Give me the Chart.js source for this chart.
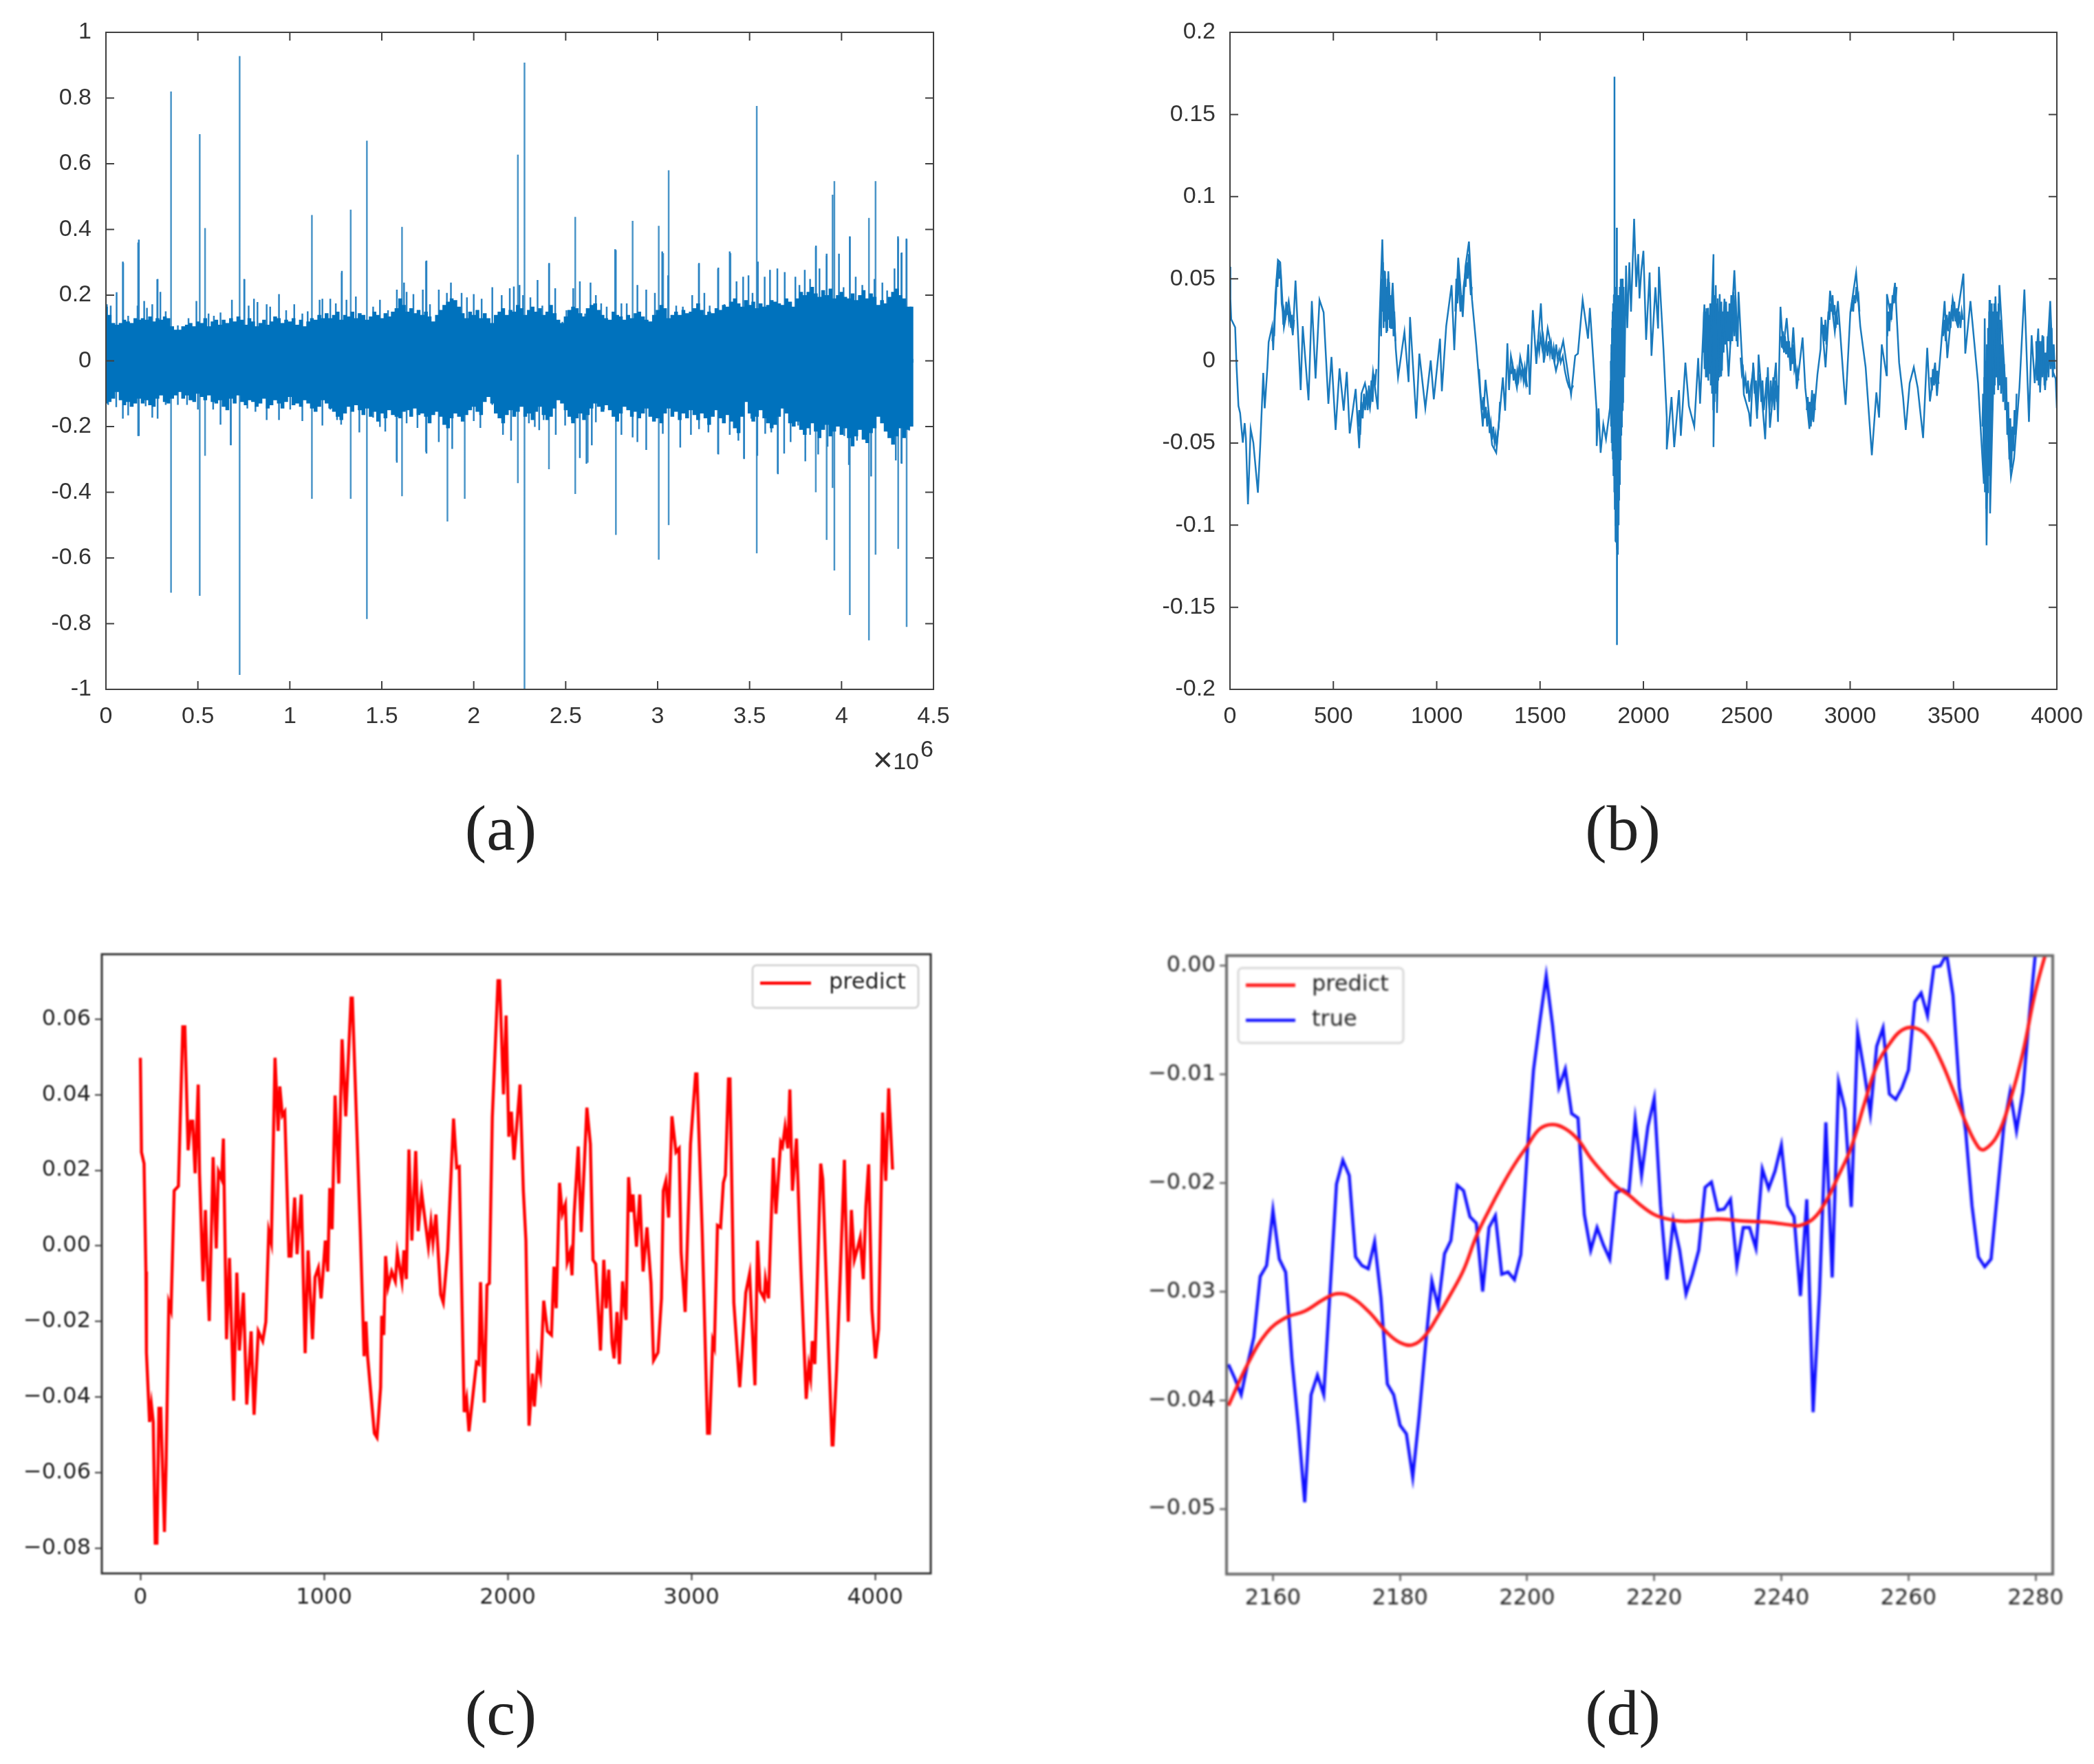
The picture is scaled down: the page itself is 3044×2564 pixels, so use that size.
<!DOCTYPE html>
<html>
<head>
<meta charset="utf-8">
<script src="https://cdn.jsdelivr.net/npm/chart.js@4/dist/chart.umd.js"></script>
<style>
    body { margin: 0; background: #fff; width: 3044px; height: 2564px; position: relative; overflow: hidden; }
    canvas { position: absolute; }
    .caption { position: absolute; width: 200px; text-align: center; font-family: "Liberation Serif", serif; font-size: 94px; line-height: 100px; color: #222; }
</style>
</head>
<body>
<canvas id="chartA" width="1450" height="1150" style="left:0;top:0;filter:blur(.7px)"></canvas>
<canvas id="chartB" width="1404" height="1150" style="left:1640px;top:0;filter:blur(.7px)"></canvas>
<canvas id="chartC" width="1450" height="1060" style="left:0;top:1340px;filter:blur(.9px)"></canvas>
<canvas id="chartD" width="1404" height="1060" style="left:1640px;top:1340px;filter:blur(1.4px)"></canvas>
<div class="caption" style="left:628px;top:1153px">(a)</div>
<div class="caption" style="left:2259px;top:1153px">(b)</div>
<div class="caption" style="left:628px;top:2439px">(c)</div>
<div class="caption" style="left:2259px;top:2439px">(d)</div>
<script>
// panel (a), x values in units of 10^6
const aXTicks = [0, 0.5, 1, 1.5, 2, 2.5, 3, 3.5, 4, 4.5]
const aYTicks = [-1, -0.8, -0.6, -0.4, -0.2, 0, 0.2, 0.4, 0.6, 0.8, 1]

const spikeX = [0.094, 0.175, 0.279, 0.354, 0.51, 0.539, 0.679, 0.727, 0.753, 1.12, 1.282, 1.331, 1.419, 1.581, 1.61, 1.74, 1.857, 1.951, 2.24, 2.276, 2.409, 2.552, 2.62, 2.773, 2.864, 3.006, 3.03, 3.06, 3.224, 3.328, 3.396, 3.47, 3.539, 3.653, 3.86, 3.919, 3.951, 3.961, 4.045, 4.149, 4.185, 4.308, 4.325, 4.354]
const spikeTop = [0.298, 0.36, 0.248, 0.82, 0.69, 0.404, 0.1, 0.928, 0.248, 0.444, 0.268, 0.46, 0.67, 0.1, 0.408, 0.303, 0.1, 0.1, 0.628, 0.908, 0.295, 0.438, 0.1, 0.337, 0.426, 0.411, 0.328, 0.58, 0.295, 0.28, 0.328, 0.1, 0.776, 0.1, 0.346, 0.32, 0.506, 0.547, 0.378, 0.435, 0.547, 0.373, 0.328, 0.369]
const spikeBottom = [-0.1, -0.229, -0.1, -0.706, -0.715, -0.289, -0.256, -0.956, -0.1, -0.42, -0.1, -0.42, -0.786, -0.304, -0.412, -0.277, -0.489, -0.42, -0.372, -1, -0.33, -0.405, -0.31, -0.53, -0.1, -0.605, -0.1, -0.5, -0.1, -0.283, -0.1, -0.297, -0.586, -0.342, -0.4, -0.545, -0.387, -0.638, -0.774, -0.851, -0.59, -0.572, -0.312, -0.81]

const upperX = [0.005, 0.026, 0.058, 0.092, 0.121, 0.172, 0.179, 0.208, 0.223, 0.252, 0.281, 0.296, 0.325, 0.391, 0.449, 0.492, 0.558, 0.587, 0.623, 0.685, 0.752, 0.776, 0.805, 0.824, 0.874, 0.893, 0.941, 0.98, 1.024, 1.068, 1.097, 1.162, 1.177, 1.22, 1.25, 1.283, 1.308, 1.359, 1.453, 1.49, 1.534, 1.582, 1.621, 1.635, 1.672, 1.723, 1.743, 1.762, 1.81, 1.854, 1.876, 1.934, 1.963, 2, 2.043, 2.101, 2.152, 2.196, 2.218, 2.249, 2.268, 2.308, 2.347, 2.373, 2.41, 2.443, 2.482, 2.504, 2.541, 2.577, 2.606, 2.635, 2.664, 2.693, 2.723, 2.769, 2.803, 2.832, 2.89, 2.938, 2.985, 3.025, 3.057, 3.101, 3.137, 3.188, 3.225, 3.254, 3.283, 3.33, 3.363, 3.392, 3.429, 3.465, 3.494, 3.516, 3.545, 3.582, 3.611, 3.651, 3.691, 3.749, 3.771, 3.8, 3.829, 3.861, 3.88, 3.919, 3.986, 4.011, 4.045, 4.077, 4.113, 4.179, 4.222, 4.248, 4.288, 4.307, 4.327, 4.353, 4.375]
const upperY = [0.172, 0.168, 0.209, 0.302, 0.137, 0.168, 0.369, 0.182, 0.161, 0.172, 0.249, 0.21, 0.151, 0.108, 0.13, 0.182, 0.144, 0.137, 0.147, 0.186, 0.249, 0.168, 0.189, 0.179, 0.172, 0.165, 0.203, 0.154, 0.172, 0.144, 0.151, 0.186, 0.189, 0.189, 0.175, 0.274, 0.186, 0.196, 0.165, 0.186, 0.154, 0.217, 0.238, 0.21, 0.203, 0.217, 0.305, 0.172, 0.217, 0.207, 0.238, 0.207, 0.193, 0.203, 0.189, 0.224, 0.2, 0.221, 0.226, 0.231, 0.2, 0.193, 0.246, 0.168, 0.298, 0.221, 0.119, 0.154, 0.221, 0.242, 0.144, 0.238, 0.2, 0.175, 0.165, 0.34, 0.175, 0.175, 0.231, 0.217, 0.207, 0.333, 0.26, 0.168, 0.165, 0.2, 0.298, 0.207, 0.168, 0.284, 0.172, 0.333, 0.242, 0.256, 0.26, 0.207, 0.302, 0.256, 0.277, 0.281, 0.27, 0.256, 0.231, 0.277, 0.249, 0.351, 0.281, 0.326, 0.326, 0.224, 0.379, 0.256, 0.231, 0.249, 0.238, 0.214, 0.281, 0.379, 0.33, 0.372, 0.165]
const lowerX = [0.012, 0.056, 0.092, 0.121, 0.179, 0.216, 0.252, 0.281, 0.325, 0.391, 0.441, 0.5, 0.583, 0.623, 0.679, 0.769, 0.813, 0.874, 0.941, 1.002, 1.068, 1.177, 1.22, 1.257, 1.279, 1.378, 1.453, 1.49, 1.519, 1.582, 1.635, 1.694, 1.743, 1.81, 1.883, 2, 2.036, 2.101, 2.159, 2.203, 2.3, 2.332, 2.356, 2.38, 2.446, 2.497, 2.533, 2.577, 2.613, 2.642, 2.664, 2.708, 2.803, 2.864, 2.89, 2.938, 3.028, 3.123, 3.181, 3.225, 3.276, 3.33, 3.392, 3.439, 3.47, 3.509, 3.542, 3.585, 3.618, 3.654, 3.688, 3.723, 3.764, 3.803, 3.829, 3.873, 3.924, 4.015, 4.04, 4.084, 4.12, 4.161, 4.251, 4.295, 4.327, 4.368]
const lowerY = [-0.134, -0.141, -0.176, -0.166, -0.229, -0.138, -0.173, -0.176, -0.134, -0.134, -0.134, -0.148, -0.148, -0.194, -0.257, -0.145, -0.155, -0.18, -0.18, -0.148, -0.183, -0.197, -0.148, -0.18, -0.194, -0.218, -0.173, -0.201, -0.215, -0.31, -0.19, -0.204, -0.282, -0.247, -0.268, -0.183, -0.204, -0.134, -0.225, -0.243, -0.19, -0.201, -0.211, -0.18, -0.225, -0.197, -0.18, -0.296, -0.313, -0.257, -0.187, -0.148, -0.225, -0.233, -0.247, -0.271, -0.222, -0.264, -0.225, -0.208, -0.218, -0.285, -0.225, -0.243, -0.299, -0.176, -0.289, -0.222, -0.218, -0.345, -0.282, -0.247, -0.197, -0.306, -0.225, -0.285, -0.261, -0.229, -0.317, -0.243, -0.215, -0.352, -0.215, -0.303, -0.313, -0.212]

// solid band, one reading of its edge every 0.02 x 10^6
const bandX = []
for (let i = 0; i < 220; i++) bandX.push(i * 0.02)
const bandTop = [
    0.165, 0.14, 0.115, 0.11, 0.115, 0.125, 0.12, 0.115, 0.13, 0.125,
    0.13, 0.125, 0.135, 0.12, 0.13, 0.125, 0.135, 0.13, 0.105, 0.095,
    0.095, 0.105, 0.11, 0.115, 0.105, 0.12, 0.115, 0.13, 0.105, 0.12,
    0.125, 0.11, 0.125, 0.115, 0.13, 0.12, 0.135, 0.125, 0.11, 0.13,
    0.12, 0.105, 0.115, 0.125, 0.11, 0.12, 0.135, 0.13, 0.115, 0.125,
    0.12, 0.13, 0.11, 0.125, 0.105, 0.12, 0.13, 0.125, 0.14, 0.13,
    0.145, 0.13, 0.14, 0.15, 0.125, 0.14, 0.135, 0.15, 0.13, 0.145,
    0.14, 0.125, 0.135, 0.15, 0.14, 0.13, 0.145, 0.135, 0.15, 0.16,
    0.19, 0.17, 0.15, 0.16, 0.145, 0.155, 0.14, 0.15, 0.135, 0.12,
    0.14, 0.155, 0.17, 0.18, 0.19, 0.185, 0.165, 0.145, 0.13, 0.15,
    0.14, 0.155, 0.13, 0.145, 0.13, 0.115, 0.14, 0.15, 0.16, 0.14,
    0.155, 0.15, 0.17, 0.16, 0.14, 0.155, 0.165, 0.15, 0.16, 0.14,
    0.15, 0.17, 0.145, 0.125, 0.115, 0.135, 0.155, 0.165, 0.16, 0.145,
    0.135, 0.16, 0.17, 0.175, 0.155, 0.14, 0.13, 0.125, 0.15, 0.14,
    0.135, 0.125, 0.14, 0.13, 0.145, 0.15, 0.135, 0.125, 0.12, 0.14,
    0.155, 0.17, 0.16, 0.13, 0.14, 0.15, 0.14, 0.155, 0.145, 0.15,
    0.16, 0.175, 0.155, 0.14, 0.15, 0.145, 0.16, 0.155, 0.17, 0.165,
    0.18, 0.19, 0.175, 0.165, 0.185, 0.17, 0.18, 0.16, 0.175, 0.165,
    0.17, 0.185, 0.18, 0.175, 0.17, 0.19, 0.18, 0.165, 0.19, 0.21,
    0.2, 0.21, 0.225, 0.205, 0.195, 0.215, 0.2, 0.22, 0.19, 0.2,
    0.21, 0.195, 0.19, 0.205, 0.185, 0.2, 0.215, 0.19, 0.205, 0.195,
    0.17, 0.185, 0.175, 0.195, 0.21, 0.22, 0.2, 0.19, 0.165, 0.165
]
const bandLow = [
    -0.13, -0.125, -0.115, -0.095, -0.12, -0.135, -0.125, -0.14, -0.13, -0.115,
    -0.13, -0.12, -0.135, -0.14, -0.115, -0.105, -0.125, -0.13, -0.115, -0.105,
    -0.095, -0.115, -0.105, -0.12, -0.125, -0.1, -0.11, -0.12, -0.105, -0.125,
    -0.13, -0.12, -0.14, -0.15, -0.115, -0.13, -0.105, -0.125, -0.135, -0.12,
    -0.125, -0.14, -0.13, -0.115, -0.145, -0.135, -0.12, -0.13, -0.145, -0.125,
    -0.11, -0.135, -0.13, -0.14, -0.12, -0.13, -0.145, -0.155, -0.14, -0.12,
    -0.13, -0.145, -0.155, -0.17, -0.18, -0.16, -0.14, -0.155, -0.135, -0.15,
    -0.165, -0.145, -0.17, -0.155, -0.185, -0.16, -0.175, -0.15, -0.165, -0.17,
    -0.175, -0.155, -0.15, -0.17, -0.145, -0.165, -0.16, -0.17, -0.19, -0.165,
    -0.155, -0.17, -0.195, -0.205, -0.175, -0.16, -0.17, -0.185, -0.165, -0.15,
    -0.14, -0.155, -0.165, -0.125, -0.11, -0.13, -0.16, -0.175, -0.19, -0.165,
    -0.15, -0.17, -0.155, -0.14, -0.17, -0.16, -0.18, -0.155, -0.14, -0.165,
    -0.18, -0.17, -0.145, -0.12, -0.13, -0.15, -0.17, -0.19, -0.175, -0.16,
    -0.18, -0.165, -0.145, -0.13, -0.14, -0.155, -0.135, -0.15, -0.17, -0.185,
    -0.16, -0.14, -0.15, -0.17, -0.155, -0.175, -0.16, -0.145, -0.17, -0.185,
    -0.175, -0.19, -0.16, -0.145, -0.17, -0.155, -0.18, -0.16, -0.175, -0.15,
    -0.165, -0.18, -0.16, -0.175, -0.195, -0.17, -0.15, -0.175, -0.19, -0.165,
    -0.185, -0.205, -0.22, -0.17, -0.125, -0.16, -0.185, -0.17, -0.15, -0.175,
    -0.19, -0.205, -0.195, -0.17, -0.145, -0.16, -0.19, -0.2, -0.185, -0.21,
    -0.225, -0.205, -0.19, -0.215, -0.235, -0.21, -0.195, -0.23, -0.215, -0.2,
    -0.225, -0.205, -0.235, -0.26, -0.23, -0.21, -0.24, -0.25, -0.22, -0.205,
    -0.17, -0.19, -0.215, -0.235, -0.255, -0.23, -0.205, -0.235, -0.21, -0.2
]

// panel (b)
const bXTicks = [0, 500, 1000, 1500, 2000, 2500, 3000, 3500, 4000]
const bYTicks = [-0.2, -0.15, -0.1, -0.05, 0, 0.05, 0.1, 0.15, 0.2]
const signalX = [0, 2, 6, 25, 32, 41, 49, 62, 71, 77, 87, 100, 113, 135, 146, 161, 168, 181, 187, 204, 209, 220, 232, 243, 261, 284, 304, 317, 342, 352, 380, 396, 414, 433, 453, 476, 491, 511, 530, 550, 565, 579, 608, 625, 636, 653, 677, 692, 715, 722, 737, 747, 750, 757, 766, 776, 787, 802, 813, 844, 864, 871, 901, 916, 945, 971, 986, 1016, 1025, 1046, 1072, 1085, 1104, 1126, 1139, 1156, 1171, 1191, 1223, 1236, 1268, 1288, 1320, 1331, 1342, 1350, 1359, 1388, 1404, 1430, 1443, 1450, 1465, 1482, 1504, 1518, 1537, 1577, 1612, 1650, 1670, 1683, 1706, 1732, 1741, 1773, 1774, 1783, 1793, 1806, 1819, 1838, 1842, 1844, 1846, 1848, 1850, 1852, 1854, 1856, 1858, 1860, 1861, 1863, 1865, 1867, 1869, 1871, 1872, 1874, 1876, 1878, 1880, 1882, 1884, 1886, 1888, 1890, 1892, 1894, 1896, 1898, 1900, 1904, 1908, 1916, 1922, 1932, 1940, 1955, 1965, 1975, 1981, 1990, 2000, 2013, 2030, 2039, 2058, 2071, 2075, 2097, 2113, 2113, 2136, 2149, 2172, 2181, 2203, 2220, 2246, 2265, 2274, 2295, 2304, 2313, 2321, 2339, 2339, 2350, 2356, 2369, 2376, 2392, 2412, 2440, 2456, 2460, 2486, 2511, 2518, 2531, 2550, 2557, 2589, 2602, 2612, 2641, 2651, 2663, 2676, 2693, 2712, 2725, 2742, 2770, 2783, 2803, 2816, 2822, 2842, 2857, 2861, 2881, 2903, 2926, 2941, 2971, 2978, 3001, 3029, 3049, 3075, 3105, 3127, 3140, 3153, 3176, 3178, 3198, 3217, 3237, 3256, 3269, 3288, 3308, 3327, 3353, 3373, 3386, 3411, 3420, 3437, 3457, 3470, 3496, 3515, 3548, 3557, 3582, 3619, 3647, 3651, 3660, 3674, 3677, 3703, 3716, 3722, 3748, 3778, 3793, 3819, 3843, 3865, 3878, 3893, 3910, 3919, 3930, 3943, 3968, 3981, 3994, 4000]
const signalY = [0.0573, 0.0378, 0.0253, 0.0204, -0.0039, -0.0275, -0.0317, -0.0498, -0.0379, -0.047, -0.0873, -0.0414, -0.0498, -0.0803, -0.0525, -0.0074, -0.0289, -0.0039, 0.0114, 0.0211, 0.0065, 0.0406, 0.0614, 0.06, 0.0204, 0.0364, 0.0156, 0.0489, -0.0178, 0.0211, -0.024, 0.0364, -0.0108, 0.0371, 0.0295, -0.0261, 0.0024, -0.0421, -0.0046, -0.0303, -0.0067, -0.0442, -0.0171, -0.0532, -0.0199, -0.0136, -0.0289, -0.0067, -0.0296, 0.0197, 0.0739, 0.0239, 0.0545, 0.017, 0.0545, 0.0239, 0.0475, 0.0072, -0.0101, 0.0177, -0.0129, 0.0267, -0.0352, 0.0044, -0.0289, 0.0003, -0.0234, 0.0135, -0.0185, 0.0211, 0.0461, 0.0065, 0.0628, 0.0267, 0.0573, 0.0726, 0.0371, 0.01, -0.04, -0.0115, -0.0512, -0.056, -0.0101, -0.0303, 0.0107, -0.0178, 0.0031, -0.0164, 0.0024, -0.0136, 0.01, -0.0206, 0.0309, -0.0018, 0.035, -0.0011, 0.0197, -0.006, 0.0121, -0.0206, 0.0031, 0.0044, 0.0371, 0.0135, 0.0322, -0.0289, -0.0518, -0.0289, -0.056, -0.0386, -0.0477, -0.0289, -0.012, -0.035, 0.005, -0.045, 0.025, -0.055, 0.035, -0.07, 0.04, 0.173, -0.08, 0.03, -0.11, 0.045, -0.1, 0.081, -0.173, 0.04, -0.118, 0.04, -0.1, 0.035, -0.075, 0.045, -0.06, 0.05, -0.045, 0.04, -0.04, 0.05, -0.03, 0.045, -0.01, 0.058, 0.02, 0.06, 0.03, 0.0865, 0.045, 0.065, 0.038, 0.055, 0.067, 0.0128, 0.0538, 0.0031, 0.0448, 0.0197, 0.0573, 0.0072, -0.0345, -0.0539, -0.022, -0.0525, -0.0178, -0.0456, -0.0011, -0.0275, -0.04, 0.0017, -0.0261, 0.0343, -0.0095, 0.0322, -0.0067, 0.0649, -0.0525, 0.0461, -0.0317, 0.0406, -0.0095, 0.0378, -0.0095, 0.0552, 0.0086, 0.042, -0.0206, -0.0317, -0.04, -0.0011, -0.0352, 0.0038, -0.0477, -0.0039, -0.0407, -0.0011, -0.0372, 0.0329, 0.0072, 0.026, -0.006, 0.0204, -0.0171, 0.0142, -0.0164, -0.0414, -0.0178, -0.0372, -0.0081, 0.0072, 0.0267, -0.0039, 0.0427, 0.0177, 0.0364, -0.0164, -0.0268, 0.0295, 0.0538, 0.0211, -0.0039, -0.0574, -0.0192, -0.0345, 0.01, -0.0088, 0.0406, 0.0267, 0.0475, -0.0011, -0.022, -0.0421, -0.0136, -0.0039, -0.0164, -0.047, 0.0079, -0.0247, -0.0011, -0.0213, 0.0044, 0.0364, 0.0017, 0.0378, 0.0239, 0.0531, 0.0044, 0.0364, -0.0136, -0.0748, 0.0259, -0.1123, 0.0371, -0.0929, 0.0392, -0.0178, 0.0461, -0.0095, -0.0706, -0.0595, -0.0164, 0.0434, -0.0372, 0.0156, -0.0136, 0.0197, -0.0192, 0.0156, -0.0178, 0.0364, -0.0067, -0.0108, -0.0289]

// short stretches of the trace where it is dense, a null breaks the line between them
const detailX = [
    205, 210, 214, 218, 222, 226, 230, 235, 240, 245, 250, 255, 258, 262, 268, 272, 276, 280, 285, 290, 295, 300, 305, 310, 311,
    620, 625, 630, 636, 642, 648, 654, 660, 666, 672, 678, 684, 690, 696, 702, 708, 709,
    725, 728, 731, 734, 737, 740, 743, 746, 749, 752, 755, 758, 761, 764, 767, 770, 773, 776, 779, 782, 785, 788, 791, 795, 800, 801,
    1090, 1095, 1100, 1105, 1110, 1115, 1120, 1125, 1130, 1135, 1140, 1145, 1150, 1155, 1160, 1165, 1170, 1171,
    1205, 1212, 1220, 1226, 1232, 1238, 1244, 1250, 1256, 1262, 1268, 1274, 1280, 1285, 1290, 1295, 1300, 1306, 1307,
    1360, 1366, 1372, 1378, 1384, 1390, 1396, 1402, 1408, 1414, 1420, 1426, 1432, 1438, 1439,
    1480, 1490, 1496, 1502, 1510, 1516, 1524, 1530, 1536, 1542, 1548, 1554, 1560, 1566, 1572, 1578, 1584, 1592, 1600, 1610, 1620, 1630, 1640, 1650, 1660, 1661,
    1842, 1843.5, 1845, 1846.5, 1848, 1849.5, 1851, 1852.5, 1854, 1855.5, 1857, 1858.5, 1860, 1861.5, 1863, 1864.5, 1866, 1867.5, 1869, 1870.5, 1872, 1873.5, 1875, 1876.5, 1878, 1879.5, 1881, 1882.5, 1884, 1885.5, 1887, 1888.5, 1890, 1891.5, 1893, 1894.5, 1896, 1897.5, 1899, 1900.5, 1902, 1903,
    2290, 2293, 2296, 2299, 2302, 2305, 2308, 2311, 2314, 2317, 2320, 2323, 2326, 2329, 2332, 2335, 2338, 2341, 2344, 2347, 2350, 2353, 2356, 2359, 2362, 2365, 2368, 2371, 2374, 2377, 2380, 2384, 2388, 2392, 2396, 2400, 2404, 2408, 2412, 2416, 2420, 2425, 2430, 2435, 2440, 2445, 2450, 2451,
    2470, 2476, 2482, 2488, 2494, 2500, 2506, 2512, 2520, 2526, 2532, 2538, 2544, 2552, 2558, 2564, 2570, 2576, 2582, 2590, 2596, 2604, 2610, 2616, 2622, 2628, 2634, 2640, 2646, 2652, 2653,
    2665, 2670, 2675, 2680, 2685, 2690, 2695, 2700, 2705, 2710, 2715, 2720, 2725, 2730, 2735, 2740, 2745, 2750, 2751,
    2790, 2795, 2800, 2805, 2810, 2815, 2820, 2825, 2830, 2831,
    2870, 2875, 2880, 2885, 2890, 2895, 2900, 2905, 2910, 2915, 2920, 2925, 2930, 2935, 2940, 2941,
    3005, 3010, 3015, 3020, 3025, 3030, 3035, 3040, 3045, 3046,
    3180, 3185, 3190, 3195, 3200, 3205, 3210, 3215, 3220, 3225, 3226,
    3390, 3396, 3400, 3406, 3410, 3416, 3422, 3428, 3429,
    3450, 3456, 3462, 3468, 3474, 3480, 3486, 3492, 3498, 3504, 3510, 3516, 3522, 3528, 3534, 3540, 3546, 3547,
    3640, 3643, 3646, 3649, 3652, 3655, 3658, 3661, 3664, 3667, 3670, 3673, 3676, 3679, 3682, 3685, 3688, 3691, 3694, 3697, 3700, 3703, 3706, 3710, 3714, 3718, 3722, 3726, 3730, 3735, 3740, 3745, 3750, 3755, 3760, 3765, 3770, 3775, 3780, 3785, 3790, 3795, 3800, 3805, 3806,
    3900, 3904, 3908, 3912, 3916, 3920, 3925, 3930, 3935, 3940, 3945, 3950, 3955, 3960, 3965, 3970, 3975, 3980, 3985, 3990
]
const detailY = [
    0.012, 0.02, 0.015, 0.03, 0.035, 0.05, 0.045, 0.06, 0.05, 0.055, 0.035, 0.03, 0.022, 0.03, 0.025, 0.036, 0.028, 0.033, 0.025, 0.03, 0.02, 0.028, 0.018, 0.025, null,
    -0.04, -0.03, -0.045, -0.025, -0.035, -0.02, -0.03, -0.018, -0.03, -0.015, -0.028, -0.012, -0.025, -0.008, -0.015, -0.005, null,
    0.02, 0.035, 0.015, 0.05, 0.03, 0.06, 0.02, 0.055, 0.025, 0.05, 0.02, 0.045, 0.018, 0.05, 0.025, 0.048, 0.02, 0.04, 0.02, 0.04, 0.022, 0.038, 0.015, 0.03, 0.012, null,
    0.03, 0.05, 0.035, 0.055, 0.04, 0.03, 0.04, 0.03, 0.045, 0.05, 0.045, 0.06, 0.05, 0.065, 0.05, 0.04, 0.045, null,
    -0.005, -0.02, -0.03, -0.022, -0.035, -0.028, -0.04, -0.03, -0.044, -0.038, -0.048, -0.04, -0.05, -0.045, -0.052, -0.045, -0.04, -0.025, null,
    -0.008, -0.003, -0.012, -0.005, -0.014, -0.006, -0.011, -0.003, -0.01, -0.005, -0.012, -0.004, -0.01, -0.016, null,
    0.003, 0.012, 0.006, 0.015, 0.008, 0.014, 0.005, 0.012, 0.003, 0.012, 0.004, 0.01, 0.001, 0.008, 0.002, 0.01, 0.002, 0.006, -0.001, 0.003, -0.006, -0.012, -0.016, -0.018, -0.015, null,
    0, -0.04, 0.01, -0.05, 0.02, -0.055, 0.03, -0.06, 0.035, -0.07, 0.04, -0.08, 0.04, -0.09, 0.04, -0.1, 0.04, -0.11, 0.04, -0.11, 0.04, -0.115, 0.04, -0.115, 0.04, -0.1, 0.04, -0.085, 0.035, -0.075, 0.04, -0.055, 0.04, -0.045, 0.035, -0.04, 0.03, -0.03, 0.03, -0.025, 0.035, null,
    0.005, 0.03, -0.005, 0.03, -0.01, 0.032, -0.01, 0.03, -0.012, 0.028, -0.008, 0.035, -0.015, 0.03, -0.02, 0.04, -0.03, 0.04, -0.025, 0.04, -0.02, 0.035, -0.018, 0.038, -0.012, 0.03, -0.01, 0.028, -0.008, 0.036, -0.006, 0.03, 0.005, 0.03, 0.01, 0.036, 0.012, 0.03, 0.012, 0.035, 0.01, 0.04, 0.012, 0.042, 0.015, 0.04, 0.012, null,
    0.002, -0.008, -0.005, -0.015, -0.01, -0.02, -0.012, -0.025, -0.015, -0.01, -0.004, -0.02, -0.012, -0.03, -0.015, -0.008, -0.025, -0.012, -0.03, -0.02, -0.01, -0.02, -0.03, -0.012, -0.028, -0.01, -0.03, -0.012, -0.025, -0.015, null,
    0.015, 0.008, 0.018, 0.005, 0.015, 0.004, 0.012, 0.002, 0.012, 0, 0.008, -0.002, 0.01, -0.005, -0.002, -0.01, -0.006, -0.012, null,
    -0.03, -0.022, -0.035, -0.025, -0.04, -0.028, -0.036, -0.02, -0.03, null,
    0.022, 0.012, 0.025, 0.01, 0.02, 0.03, 0.025, 0.035, 0.03, 0.04, 0.028, 0.034, 0.02, 0.03, 0.022, null,
    0.03, 0.037, 0.03, 0.04, 0.035, 0.045, 0.038, 0.04, 0.03, null,
    0.015, 0.03, 0.018, 0.035, 0.025, 0.04, 0.035, 0.045, 0.035, 0.045, null,
    -0.01, -0.018, -0.005, -0.015, -0.004, -0.014, -0.006, -0.014, null,
    0.015, 0.025, 0.012, 0.028, 0.018, 0.03, 0.02, 0.034, 0.024, 0.036, 0.024, 0.032, 0.02, 0.03, 0.02, 0.03, 0.025, null,
    -0.04, -0.02, -0.065, -0.01, -0.08, 0, -0.09, 0.01, -0.08, 0.02, -0.07, 0.03, -0.06, 0.03, -0.05, 0.035, -0.03, 0.03, -0.02, 0.035, -0.015, 0.03, -0.01, 0.03, -0.01, 0.035, -0.015, 0.025, -0.02, 0.01, -0.025, -0.002, -0.03, -0.01, -0.045, -0.025, -0.06, -0.035, -0.065, -0.04, -0.055, -0.03, -0.045, -0.02, null,
    0.012, -0.012, 0.015, -0.015, 0.012, -0.012, 0.012, -0.01, 0.015, -0.015, 0.005, -0.012, 0.015, -0.01, 0.025, -0.005, 0.02, -0.01, 0.01, -0.005
]

// panel (c)
const cXTicks = [0, 1000, 2000, 3000, 4000]
const cYTicks = [-0.08, -0.06, -0.04, -0.02, 0, 0.02, 0.04, 0.06]
const predictX = [0, 6, 20, 30, 33, 50, 60, 70, 81, 90, 101, 111, 131, 140, 155, 167, 184, 207, 231, 242, 260, 274, 285, 298, 315, 322, 341, 354, 365, 375, 396, 413, 425, 442, 452, 469, 485, 508, 525, 539, 561, 579, 603, 619, 642, 666, 683, 699, 713, 733, 750, 759, 773, 786, 809, 820, 840, 853, 876, 897, 913, 937, 951, 969, 984, 1007, 1020, 1031, 1044, 1060, 1080, 1098, 1118, 1147, 1154, 1197, 1218, 1228, 1237, 1274, 1288, 1308, 1314, 1325, 1335, 1348, 1368, 1388, 1399, 1424, 1435, 1448, 1462, 1478, 1499, 1512, 1531, 1568, 1582, 1593, 1609, 1635, 1649, 1673, 1705, 1722, 1736, 1763, 1776, 1789, 1830, 1843, 1852, 1872, 1887, 1900, 1916, 1947, 1956, 1977, 1991, 2006, 2020, 2034, 2045, 2067, 2085, 2099, 2116, 2135, 2145, 2163, 2178, 2196, 2216, 2238, 2252, 2264, 2282, 2297, 2314, 2324, 2340, 2350, 2361, 2384, 2400, 2431, 2450, 2464, 2479, 2505, 2523, 2536, 2550, 2568, 2579, 2595, 2608, 2625, 2644, 2658, 2672, 2682, 2701, 2719, 2737, 2758, 2780, 2794, 2818, 2837, 2847, 2861, 2876, 2894, 2916, 2933, 2944, 2966, 2995, 3023, 3030, 3059, 3088, 3098, 3116, 3125, 3142, 3159, 3174, 3185, 3202, 3210, 3231, 3263, 3281, 3296, 3317, 3346, 3360, 3374, 3396, 3403, 3420, 3446, 3460, 3486, 3496, 3510, 3525, 3536, 3550, 3572, 3596, 3625, 3639, 3649, 3658, 3672, 3704, 3715, 3747, 3766, 3771, 3790, 3811, 3833, 3854, 3871, 3887, 3904, 3919, 3936, 3950, 3965, 3983, 4002, 4019, 4041, 4058, 4074, 4095]
const predictY = [0.0498, 0.0248, 0.0218, -0.0068, -0.0282, -0.0466, -0.042, -0.0466, -0.0787, -0.0787, -0.043, -0.043, -0.0757, -0.0578, -0.015, -0.017, 0.0146, 0.0158, 0.058, 0.058, 0.0253, 0.033, 0.033, 0.0192, 0.0427, 0.0192, -0.0094, 0.0095, -0.0068, -0.0199, 0.0235, -0.0007, 0.0197, 0.0177, 0.0284, -0.0247, -0.0032, -0.041, -0.0071, -0.0277, -0.0124, -0.042, -0.0226, -0.0447, -0.0226, -0.0252, -0.0201, 0.0039, 0.0008, 0.0498, 0.0304, 0.0422, 0.0345, 0.0355, -0.0027, -0.0027, 0.0128, -0.0022, 0.0136, -0.0284, -0.0012, -0.0247, -0.0083, -0.0058, -0.0139, 0.0014, -0.0068, 0.0153, 0.0044, 0.0398, 0.0165, 0.0547, 0.0343, 0.0656, 0.0656, 0.0044, -0.0292, -0.02, -0.0292, -0.0496, -0.0507, -0.0374, -0.0185, -0.0236, -0.0027, -0.0109, -0.0068, -0.0094, -0.0019, -0.0094, -0.0012, -0.0088, 0.0255, 0.0014, 0.0251, 0.0039, 0.0141, -0.0002, 0.0063, 0.0009, 0.0083, -0.0129, -0.015, -0.0012, 0.0337, 0.0207, 0.021, -0.044, -0.0405, -0.0491, -0.0308, -0.0313, -0.0096, -0.0415, -0.0104, -0.0099, 0.034, 0.0702, 0.0702, 0.0401, 0.061, 0.0289, 0.0355, 0.0228, 0.0294, 0.0427, 0.0146, 0.0014, -0.0476, -0.0338, -0.0425, -0.0303, -0.0343, -0.0145, -0.0226, -0.0236, -0.0055, -0.0165, 0.0167, 0.0085, 0.011, -0.0043, -0.0017, -0.0078, 0.008, 0.0263, 0.0037, 0.0366, 0.0269, -0.0037, -0.0048, -0.0277, -0.0037, -0.0165, -0.0063, -0.0257, -0.0298, -0.0175, -0.0313, -0.0094, -0.0196, 0.0182, 0.009, 0.0136, -0.0002, 0.0136, -0.0068, 0.0049, -0.0099, -0.0303, -0.0282, -0.0139, 0.0146, 0.0172, 0.0075, 0.0343, 0.0248, 0.0258, -0.0017, -0.0175, 0.0269, 0.0455, 0.0455, 0.0034, -0.0496, -0.0496, -0.0252, -0.0267, 0.0054, 0.0049, 0.0167, 0.0187, 0.0442, 0.0442, -0.015, -0.0374, -0.0241, -0.0124, -0.0073, -0.0369, 0.0014, -0.0119, -0.0139, -0.0088, -0.0139, 0.0233, 0.0085, 0.0274, 0.0264, 0.0315, 0.0258, 0.0414, 0.0146, 0.0284, -0.0058, -0.0405, -0.0318, -0.0349, -0.0252, -0.0313, 0.0218, 0.0177, -0.0272, -0.0527, -0.0527, -0.0333, -0.0068, 0.0228, -0.0201, 0.0095, -0.0037, -0.0007, 0.0022, -0.0088, 0.0105, 0.0216, -0.017, -0.0298, -0.0221, 0.0353, 0.0172, 0.0417, 0.0202]

// panel (d)
const dXTicks = [2160, 2180, 2200, 2220, 2240, 2260, 2280]
const dYTicks = [-0.05, -0.04, -0.03, -0.02, -0.01, 0]
const trueX = []
for (let i = 2153; i <= 2281; i++) trueX.push(i)
const trueY = [-0.0367, -0.038, -0.0395, -0.0367, -0.0342, -0.0286, -0.0276, -0.0225, -0.027, -0.0282, -0.0363, -0.0424, -0.0494, -0.0395, -0.0377, -0.0395, -0.0298, -0.0201, -0.0179, -0.0193, -0.0268, -0.0276, -0.0279, -0.0254, -0.0306, -0.0385, -0.0395, -0.0423, -0.0431, -0.0471, -0.0415, -0.035, -0.029, -0.0314, -0.0265, -0.0253, -0.0202, -0.0207, -0.0231, -0.0237, -0.03, -0.0241, -0.023, -0.0284, -0.0282, -0.0289, -0.0266, -0.0173, -0.0096, -0.0051, -0.0009, -0.0055, -0.0112, -0.0095, -0.0136, -0.014, -0.0229, -0.0262, -0.0241, -0.0257, -0.027, -0.0209, -0.0206, -0.0209, -0.0142, -0.0193, -0.0148, -0.0122, -0.0221, -0.0289, -0.0235, -0.0262, -0.0302, -0.0284, -0.0262, -0.0204, -0.0199, -0.0225, -0.0224, -0.0215, -0.0276, -0.0241, -0.0241, -0.026, -0.0187, -0.0205, -0.0189, -0.0165, -0.0221, -0.0231, -0.0304, -0.0215, -0.0411, -0.0302, -0.0144, -0.0287, -0.0107, -0.0132, -0.0222, -0.0061, -0.0096, -0.0136, -0.0074, -0.0057, -0.0118, -0.0123, -0.0112, -0.0096, -0.0033, -0.0025, -0.0046, -0.0001, 0, 0.0011, -0.0027, -0.0112, -0.0152, -0.0221, -0.0268, -0.0277, -0.027, -0.0209, -0.0148, -0.0116, -0.0152, -0.0116, -0.0047, 0.0013, 0.0035]
const smoothX = [2153, 2156, 2159, 2162, 2165, 2168, 2170, 2172, 2175, 2178, 2180, 2182, 2184, 2186, 2188, 2190, 2192, 2194, 2196, 2198, 2200, 2202, 2204, 2206, 2208, 2210, 2212, 2214, 2216, 2218, 2220, 2222, 2224, 2226, 2230, 2234, 2238, 2242, 2243, 2245, 2247, 2249, 2251, 2253, 2255, 2257, 2259, 2261, 2263, 2265, 2267, 2269, 2271, 2272, 2274, 2276, 2278, 2280, 2282]
const smoothY = [-0.0405, -0.0367, -0.0338, -0.0324, -0.0318, -0.0307, -0.0302, -0.0304, -0.0318, -0.0338, -0.0347, -0.0349, -0.034, -0.0322, -0.0302, -0.028, -0.0249, -0.0225, -0.0203, -0.0183, -0.0166, -0.015, -0.0146, -0.015, -0.016, -0.0177, -0.0191, -0.0203, -0.0211, -0.0221, -0.0229, -0.0233, -0.0235, -0.0235, -0.0233, -0.0235, -0.0236, -0.0239, -0.0239, -0.0233, -0.0217, -0.0193, -0.0167, -0.0128, -0.0092, -0.0072, -0.0059, -0.0057, -0.0065, -0.0086, -0.0114, -0.0144, -0.0167, -0.0169, -0.0156, -0.0124, -0.008, -0.0023, 0.002]

const matlabBlue = '#0072bd'
const matlabFont = { family: 'Liberation Sans', size: 34 }
const pyFont = { family: 'DejaVu Sans', size: 32 }

function pts(xs, ys) {
    return xs.map((x, i) => ({ x: x, y: ys[i] }))
}

// every value is drawn as a stem, going back through 0 where the band hides it
function stems(xs, ys) {
    let out = []
    xs.forEach((x, i) => {
        out.push({ x: x, y: 0 }, { x: x, y: ys[i] }, { x: x, y: 0 })
    })
    return out
}

function signedLabel(v) {
    return (v < 0 ? '\u2212' : '') + Math.abs(v).toFixed(2)
}

// box round the plot area, and the short inward ticks of the matlab panels
const framePlugin = {
    id: 'frame',
    afterDatasetsDraw(chart, args, opts) {
        const ctx = chart.ctx, a = chart.chartArea
        ctx.save()
        ctx.strokeStyle = opts.color
        ctx.lineWidth = opts.width
        ctx.strokeRect(a.left, a.top, a.right - a.left, a.bottom - a.top)
        if (opts.inward) {
            const len = opts.inward
            ctx.lineWidth = 2
            ctx.beginPath()
            chart.scales.x.ticks.forEach(t => {
                const px = chart.scales.x.getPixelForValue(t.value)
                ctx.moveTo(px, a.bottom); ctx.lineTo(px, a.bottom - len)
                ctx.moveTo(px, a.top); ctx.lineTo(px, a.top + len)
            })
            chart.scales.y.ticks.forEach(t => {
                const py = chart.scales.y.getPixelForValue(t.value)
                ctx.moveTo(a.left, py); ctx.lineTo(a.left + len, py)
                ctx.moveTo(a.right, py); ctx.lineTo(a.right - len, py)
            })
            ctx.stroke()
        }
        ctx.restore()
    }
}

const insetLegend = {
    id: 'insetLegend',
    afterDraw(chart, args, opts) {
        if (!opts.box) return
        const ctx = chart.ctx, b = opts.box
        ctx.save()
        ctx.strokeStyle = '#d6d6d6'
        ctx.lineWidth = 3
        ctx.fillStyle = '#fff'
        ctx.beginPath()
        ctx.roundRect(b.x, b.y, b.w, b.h, 6)
        ctx.fill()
        ctx.stroke()
        ctx.font = '32px "DejaVu Sans"'
        ctx.textBaseline = 'middle'
        chart.data.datasets.forEach((d, i) => {
            const y = b.lineY + i * b.rowH
            ctx.strokeStyle = d.borderColor
            ctx.lineWidth = d.borderWidth
            ctx.beginPath()
            ctx.moveTo(b.x + 11, y)
            ctx.lineTo(b.x + 11 + b.lineW, y)
            ctx.stroke()
            ctx.fillStyle = '#222'
            ctx.fillText(d.label, b.x + b.textX, y)
        })
        ctx.restore()
    }
}

const powerLabel = {
    id: 'powerLabel',
    afterDraw(chart, args, opts) {
        if (!opts.text) return
        const ctx = chart.ctx, a = chart.chartArea
        ctx.save()
        ctx.fillStyle = '#333'
        ctx.textBaseline = 'alphabetic'
        ctx.textAlign = 'right'
        ctx.font = '34px "Liberation Sans"'
        ctx.fillText(opts.sup, a.right, a.bottom + 98)
        ctx.fillText(opts.text, a.right - 21, a.bottom + 116)
        ctx.font = '50px "Liberation Sans"'
        ctx.fillText(opts.times, a.right - 59, a.bottom + 119)
        ctx.restore()
    }
}

function axisBase(cfg) {
    return {
        type: 'linear',
        min: cfg.min,
        max: cfg.max,
        afterBuildTicks(scale) { scale.ticks = cfg.ticks.map(v => ({ value: v })) },
        afterFit(scale) {
            if (cfg.width) scale.width = cfg.width
            if (cfg.height) scale.height = cfg.height
        },
        border: { display: false },
        grid: cfg.tickLen ? { drawOnChartArea: false, tickLength: cfg.tickLen, tickColor: '#333', tickWidth: 2 } : { display: false },
        ticks: {
            autoSkip: false,
            maxRotation: 0,
            padding: cfg.padding,
            color: cfg.color,
            font: cfg.font,
            callback: cfg.label
        }
    }
}

function panel(id, datasets, x, y, pad, extra) {
    return new Chart(document.getElementById(id), {
        type: 'scatter',
        data: { datasets: datasets },
        plugins: [framePlugin, insetLegend, powerLabel],
        options: {
            responsive: false,
            animation: false,
            layout: { padding: pad },
            elements: { point: { radius: 0 }, line: { tension: 0, borderJoinStyle: 'miter', borderCapStyle: 'butt' } },
            scales: { x: axisBase(x), y: axisBase(y) },
            plugins: Object.assign({ legend: { display: false }, tooltip: { enabled: false } }, extra)
        }
    })
}

const lineDs = (label, data, color, width) => ({ label: label, data: data, showLine: true, borderColor: color, borderWidth: width, fill: false })

// chart.js paints the first dataset last, so the solid band goes first
panel('chartA', [
    lineDs('band top', stems(bandX, bandTop), matlabBlue, 5.5),
    lineDs('band low', stems(bandX, bandLow), matlabBlue, 5.5),
    lineDs('upper', stems(upperX, upperY), '#2a83c3', 2.5),
    lineDs('lower', stems(lowerX, lowerY), '#2a83c3', 2.5),
    lineDs('spikes up', stems(spikeX, spikeTop), '#4a95c8', 2.5),
    lineDs('spikes down', stems(spikeX, spikeBottom), '#4a95c8', 2.5)
], {
    min: 0, max: 4.5, ticks: aXTicks, height: 148, padding: 11, color: '#333', font: matlabFont, label: v => String(v)
}, {
    min: -1, max: 1, ticks: aYTicks, width: 154, padding: 13, color: '#333', font: matlabFont, label: v => String(v)
}, { top: 47, right: 93 }, {
    frame: { color: '#404040', width: 2, inward: 12 },
    powerLabel: { text: '10', sup: '6', times: '\u00d7' }
})

panel('chartB', [
    lineDs('signal', pts(signalX, signalY), '#1a7abd', 2.5),
    lineDs('signal detail', pts(detailX, detailY), '#1a7abd', 2.5)
], {
    min: 0, max: 4000, ticks: bXTicks, height: 148, padding: 11, color: '#333', font: matlabFont, label: v => String(v)
}, {
    min: -0.2, max: 0.2, ticks: bYTicks, width: 148, padding: 13, color: '#333', font: matlabFont, label: v => String(v)
}, { top: 47, right: 54 }, {
    frame: { color: '#404040', width: 2, inward: 12 }
})

panel('chartC', [
    lineDs('predict', pts(predictX, predictY), '#ff0000', 4.5)
], {
    min: -210, max: 4303, ticks: cXTicks, height: 113, padding: 6, tickLen: 10, color: '#222', font: pyFont, label: v => String(v)
}, {
    min: -0.0867, max: 0.0772, ticks: cYTicks, width: 148, padding: 6, tickLen: 10, color: '#222', font: pyFont, label: signedLabel
}, { top: 47, right: 97 }, {
    frame: { color: '#333', width: 3 },
    insetLegend: { box: { x: 1094, y: 63, w: 241, h: 62, lineY: 89, rowH: 0, lineW: 74, textX: 111 } }
})

panel('chartD', [
    Object.assign(lineDs('predict', pts(smoothX, smoothY), '#ff1a1a', 5), { tension: 0.4 }),
    lineDs('true', pts(trueX, trueY), '#0f0fff', 4.5)
], {
    min: 2152.7, max: 2282.7, ticks: dXTicks, height: 112, padding: 6, tickLen: 10, color: '#222', font: pyFont, label: v => String(v)
}, {
    min: -0.05602, max: 0.00095, ticks: dYTicks, width: 143, padding: 6, tickLen: 10, color: '#222', font: pyFont, label: signedLabel
}, { top: 49, right: 60 }, {
    frame: { color: '#6a6a6a', width: 4 },
    insetLegend: { box: { x: 160, y: 67, w: 240, h: 109, lineY: 92, rowH: 51, lineW: 72, textX: 107 } }
})
</script>
</body>
</html>
